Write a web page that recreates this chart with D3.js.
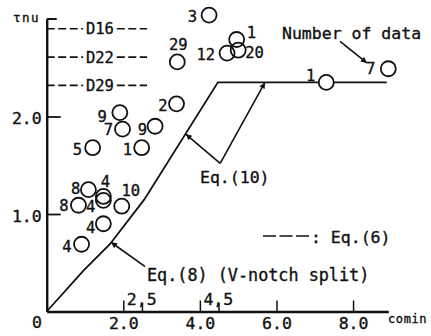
<!DOCTYPE html>
<html>
<head>
<meta charset="utf-8">
<script src="https://cdn.jsdelivr.net/npm/d3@7/dist/d3.min.js"></script>
<style>
  html, body { margin: 0; padding: 0; background: #fff; }
  svg { display: block; }
  text { font-family: "DejaVu Sans Mono", monospace; fill: #111; stroke: #111; stroke-width: 0.35px; }
</style>
</head>
<body>
<script>
// Measured shear strength (tnu) against comin, one circle per test group
const pointX = [0.91, 1.48, 0.83, 1.09, 1.48, 1.48, 1.96, 1.20, 2.48, 1.98, 1.91, 2.83, 3.39, 3.41, 4.24, 4.71, 5.00, 4.96, 7.30, 8.92];
const pointY = [0.69, 0.90, 1.09, 1.25, 1.14, 1.18, 1.08, 1.68, 1.68, 1.87, 2.04, 1.90, 2.13, 2.56, 3.04, 2.65, 2.68, 2.79, 2.35, 2.49];
// Number of data behind each circle
const pointCount = ["4", "4", "8", "8", "4", "4", "10", "5", "1", "7", "9", "9", "2", "29", "3", "12", "20", "1", "1", "7"];
// Where each count label sits relative to its circle: [dx, dy, anchor]
const labelPlace = [
  [-10, 8, "end"], [-8, 9, "end"], [-10, 6, "end"], [-8, 4, "end"], [-8, 12, "end"],
  [2, -9, "middle"], [9, -10, "middle"], [-10.5, 7, "end"], [-9.5, 7, "end"], [-9.5, 6, "end"],
  [-13, 9, "end"], [-8, 9, "end"], [-9, 7, "end"], [1, -12, "middle"], [-12, 7, "end"],
  [-12, 7, "end"], [7, 8, "start"], [10, -1, "start"], [-11, -1, "end"], [-13, 5, "end"]
];

// Eq.(8) (V-notch split) curve, capped by the Eq.(10) plateau
const curveX = [0, 0.96, 1.65, 2.55, 4.47, 8.88];
const curveY = [0, 0.42, 0.69, 1.15, 2.35, 2.35];

// Eq.(6) levels for each diameter
const dNames = ["D16", "D22", "D29"];
const dLevels = [2.90, 2.61, 2.32];

// Axis ticks
const xTicks = [2, 4, 6, 8];
const xMinorTicks = [2.5, 4.5];
const xPairLabels = ["2,5", "4,5"];
const yTicks = [1, 2];

const W = 431, H = 336;
const svg = d3.select("body").append("svg").attr("width", W).attr("height", H);

const defs = svg.append("defs");
defs.append("marker")
  .attr("id", "arrow").attr("viewBox", "0 0 10 10")
  .attr("refX", 10).attr("refY", 5)
  .attr("markerWidth", 8).attr("markerHeight", 6)
  .attr("markerUnits", "userSpaceOnUse")
  .attr("orient", "auto")
  .append("path").attr("d", "M0,0 L10,5 L0,10 Z").attr("fill", "#111");

const x = d3.scaleLinear().domain([0, 8.92]).range([46.7, 388.3]);
const y = d3.scaleLinear().domain([0, 3]).range([311.5, 19]);

const ink = "#111";

// Axes
const xAxis = d3.axisBottom(x).tickValues(xTicks).tickFormat(d3.format(".1f"))
  .tickSizeInner(-11).tickSizeOuter(0).tickPadding(5);
const gx = svg.append("g").attr("transform", `translate(0,${y(0)})`).call(xAxis);
gx.select(".domain").attr("stroke", ink).attr("stroke-width", 2.4);
gx.selectAll(".tick line").attr("stroke", ink).attr("stroke-width", 1.5);
gx.selectAll(".tick text").attr("font-family", "DejaVu Sans Mono").attr("font-size", 16.5).attr("fill", ink).attr("dy", "0.78em");

// short ticks at 2.5 and 4.5
svg.append("g").selectAll("line").data(xMinorTicks).join("line")
  .attr("x1", d => x(d)).attr("x2", d => x(d))
  .attr("y1", y(0)).attr("y2", y(0) - 8)
  .attr("stroke", ink).attr("stroke-width", 1.5);
svg.append("g").selectAll("text").data(xPairLabels).join("text")
  .attr("x", (d, i) => x(xTicks[i]) + 3.5)
  .attr("y", y(0) - 6.5)
  .attr("font-size", 16.5)
  .text(d => d);

const yAxis = d3.axisLeft(y).tickValues(yTicks).tickFormat(d3.format(".1f"))
  .tickSizeInner(-14).tickSizeOuter(0).tickPadding(5);
const gy = svg.append("g").attr("transform", `translate(${x(0)},0)`).call(yAxis);
gy.select(".domain").attr("stroke", ink).attr("stroke-width", 2.4);
gy.selectAll(".tick line").attr("stroke", ink).attr("stroke-width", 1.8);
gy.selectAll(".tick text").attr("font-family", "DejaVu Sans Mono").attr("font-size", 16.5).attr("fill", ink).attr("dy", "0.45em");

// top cap of the y axis
svg.append("line")
  .attr("x1", x(0)).attr("x2", x(0) + 10)
  .attr("y1", y(3)).attr("y2", y(3))
  .attr("stroke", ink).attr("stroke-width", 2);

// origin and axis titles
svg.append("text").attr("x", 42).attr("y", 328).attr("text-anchor", "end").attr("font-size", 16.5).text("0");
svg.append("text").attr("x", 13).attr("y", 22).attr("font-size", 12.5).attr("letter-spacing", 1.5).text("τnu");
svg.append("text").attr("x", 388).attr("y", 323).attr("font-size", 12).attr("letter-spacing", 0.6).text("comin");

// Eq.(6) dashed levels, label in the gap
const dG = svg.append("g");
dLevels.forEach((v, i) => {
  dG.append("line").attr("x1", x(0)).attr("x2", x(0.95)).attr("y1", y(v)).attr("y2", y(v))
    .attr("stroke", ink).attr("stroke-width", 1.7).attr("stroke-dasharray", "8,3.5");
  dG.append("line").attr("x1", x(1.83)).attr("x2", x(2.62)).attr("y1", y(v)).attr("y2", y(v))
    .attr("stroke", ink).attr("stroke-width", 1.7).attr("stroke-dasharray", "8,3.5");
  dG.append("text").attr("x", x(1.39)).attr("y", y(v)).attr("dy", "0.36em")
    .attr("text-anchor", "middle").attr("font-size", 15.5).text(dNames[i]);
});

// Eq.(8) curve with its plateau
const curve = d3.line().x(d => x(d[0])).y(d => y(d[1]));
svg.append("path")
  .attr("d", curve(d3.zip(curveX, curveY)))
  .attr("fill", "none").attr("stroke", ink).attr("stroke-width", 1.8);

// Circles: white underlay hides the curve, outlines drawn on top of each other
const pts = d3.zip(pointX, pointY);
svg.append("g").selectAll("circle").data(pts).join("circle")
  .attr("cx", d => x(d[0])).attr("cy", d => y(d[1])).attr("r", 7.5)
  .attr("fill", "#fff");
svg.append("g").selectAll("circle").data(pts).join("circle")
  .attr("cx", d => x(d[0])).attr("cy", d => y(d[1])).attr("r", 7.5)
  .attr("fill", "none").attr("stroke", ink).attr("stroke-width", 1.8);
svg.append("g").selectAll("text").data(pts).join("text")
  .attr("x", (d, i) => x(d[0]) + labelPlace[i][0])
  .attr("y", (d, i) => y(d[1]) + labelPlace[i][1])
  .attr("text-anchor", (d, i) => labelPlace[i][2])
  .attr("font-size", 15.5)
  .text((d, i) => pointCount[i]);

// Annotations
function arrow(from, to) {
  svg.append("line")
    .attr("x1", x(from[0])).attr("y1", y(from[1]))
    .attr("x2", x(to[0])).attr("y2", y(to[1]))
    .attr("stroke", ink).attr("stroke-width", 1.6)
    .attr("marker-end", "url(#arrow)");
}
// Eq.(10): two arrows from one vertex
arrow([4.53, 1.52], [3.63, 1.82]);
arrow([4.53, 1.52], [5.70, 2.35]);
svg.append("text").attr("x", 200).attr("y", 183).attr("font-size", 16.5).text("Eq.(10)");

// Eq.(8)
arrow([2.57, 0.46], [1.68, 0.71]);
svg.append("text").attr("x", 147).attr("y", 281).attr("font-size", 16.8).text("Eq.(8) (V-notch split)");

// Number of data
arrow([7.66, 2.77], [8.36, 2.55]);
svg.append("text").attr("x", 282).attr("y", 39).attr("font-size", 16.5).text("Number of data");

// Eq.(6) key
svg.append("line").attr("x1", 263).attr("x2", 310).attr("y1", 236).attr("y2", 236)
  .attr("stroke", ink).attr("stroke-width", 1.7).attr("stroke-dasharray", "13,3.5");
svg.append("text").attr("x", 311).attr("y", 243).attr("font-size", 16.5).text(": Eq.(6)");
</script>
</body>
</html>
